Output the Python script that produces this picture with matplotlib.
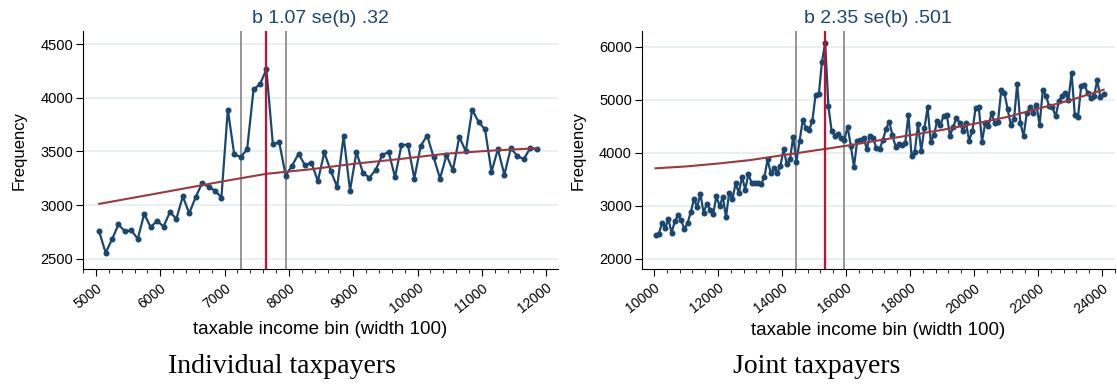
import numpy as np
import matplotlib
matplotlib.use("Agg")
from matplotlib import pyplot as plt
from matplotlib.ticker import MultipleLocator

plt.rcParams['font.family'] = ['Liberation Sans', 'DejaVu Sans']

# individual taxpayers, bins of width 100 starting at 5050
ind_bins = np.arange(5050, 11851, 100)
ind_freq = [2755, 2556, 2683, 2820, 2755, 2764, 2686, 2919, 2795, 2854,
            2801, 2935, 2873, 3081, 2925, 3075, 3205, 3171, 3136, 3071,
            3891, 3472, 3450, 3519, 4078, 4127, 4264, 3571, 3584, 3276,
            3369, 3478, 3372, 3397, 3223, 3491, 3320, 3171, 3643, 3136,
            3494, 3304, 3255, 3329, 3466, 3497, 3261, 3559, 3565, 3248,
            3553, 3649, 3447, 3248, 3466, 3326, 3637, 3500, 3888, 3776,
            3705, 3310, 3522, 3283, 3531, 3460, 3429, 3528, 3522]
ind_fit_x = [5050, 6050, 7050, 7650, 8350, 9050, 9700, 10450, 11150, 11850]
ind_fit_y = [3012, 3120, 3230, 3292, 3335, 3388, 3428, 3480, 3508, 3530]
ind_lines = [7250, 7650, 7950]  # lower bound, kink, upper bound

# joint taxpayers, bins of width 100 starting at 10050
jnt_bins = np.arange(10050, 24051, 100)
jnt_freq = [2443, 2468, 2671, 2582, 2741, 2487, 2703, 2816, 2722, 2557,
            2671, 2880, 3120, 2975, 3228, 2861, 3038, 2924, 2848, 3177,
            2987, 3165, 2785, 3247, 3120, 3418, 3241, 3544, 3304, 3595,
            3430, 3418, 3418, 3405, 3544, 3873, 3608, 3703, 3620, 3747,
            4063, 3785, 3873, 4304, 3829, 4228, 4620, 4462, 4430, 4608,
            5095, 5101, 5722, 6076, 4873, 4418, 4316, 4348, 4272, 4241,
            4494, 4127, 3734, 4228, 4241, 4272, 4076, 4316, 4272, 4082,
            4063, 4241, 4443, 4589, 4335, 4114, 4165, 4146, 4177, 4715,
            3937, 4019, 4544, 4038, 4462, 4854, 4209, 4335, 4608, 4525,
            4696, 4715, 4316, 4494, 4652, 4570, 4418, 4557, 4228, 4418,
            4842, 4861, 4209, 4557, 4506, 4747, 4557, 4589, 5177, 5127,
            4823, 4525, 4633, 5304, 4557, 4316, 4747, 4861, 4747, 4905,
            4525, 5177, 5076, 4873, 4861, 4684, 4968, 5076, 5127, 5000,
            5506, 4715, 4671, 5266, 5285, 5127, 5032, 5063, 5367, 5051,
            5114]
jnt_fit_x = [10050, 11000, 12000, 13000, 14000, 15000, 15350, 16000,
             17000, 18000, 19000, 20000, 21000, 22000, 23000, 24050]
jnt_fit_y = [3705, 3740, 3795, 3860, 3950, 4040, 4070, 4130,
             4230, 4330, 4430, 4545, 4670, 4830, 4990, 5190]
jnt_lines = [14450, 15350, 15950]

titles = ["b 1.07 se(b) .32", "b 2.35 se(b) .501"]
captions = ["Individual taxpayers", "Joint taxpayers"]

NAVY = '#1a476f'
MAROON = '#9b3a3e'
RED = '#c8102e'
GRAY = '#8c8c8c'
GRID = '#e4edf0'

fig = plt.figure(figsize=(11.17, 3.85), dpi=100)
ax1 = fig.add_axes([0.0743, 0.301, 0.4253, 0.618])
ax2 = fig.add_axes([0.5745, 0.301, 0.4237, 0.618])

panels = [
    (ax1, ind_bins, ind_freq, ind_fit_x, ind_fit_y, ind_lines,
     (4798, 12185), (2404, 4621), 1000, 200, 500),
    (ax2, jnt_bins, jnt_freq, jnt_fit_x, jnt_fit_y, jnt_lines,
     (9616, 24406), (1800, 6296), 2000, 400, 1000),
]

for i, (ax, bx, fy, fx, fity, vl, xl, yl, xmaj, xmin, ymaj) in enumerate(panels):
    ax.grid(axis='y', color=GRID, linewidth=1.2)
    ax.set_axisbelow(True)
    ax.axvline(vl[0], color=GRAY, linewidth=1.3, zorder=2)
    ax.axvline(vl[2], color=GRAY, linewidth=1.3, zorder=2)
    ax.plot(bx, fy, color=NAVY, linewidth=1.6, marker='o', markersize=3.3, zorder=3)
    ax.plot(fx, fity, color=MAROON, linewidth=1.5, zorder=4)
    ax.axvline(vl[1], color=RED, linewidth=1.6, zorder=5)

    ax.set_xlim(*xl)
    ax.set_ylim(*yl)
    ax.xaxis.set_major_locator(MultipleLocator(xmaj))
    ax.xaxis.set_minor_locator(MultipleLocator(xmin))
    ax.yaxis.set_major_locator(MultipleLocator(ymaj))
    for s in ['top', 'right']:
        ax.spines[s].set_visible(False)
    ax.tick_params(axis='y', labelsize=10.5, length=5, pad=2)
    ax.tick_params(axis='x', which='major', labelsize=10, length=5)
    ax.tick_params(axis='x', which='minor', length=3)
    plt.setp(ax.get_xticklabels(), rotation=38, ha='right', rotation_mode='anchor')
    ax.set_ylabel('Frequency', fontsize=12, labelpad=10)
    ax.set_xlabel('taxable income bin (width 100)', fontsize=13.5, labelpad=4)
    ax.set_title(titles[i], color=NAVY, fontsize=14, pad=6)

fig.text(0.2525, 0.03, captions[0], family='Liberation Serif', fontsize=20, ha='center')
fig.text(0.7315, 0.03, captions[1], family='Liberation Serif', fontsize=20, ha='center')

fig.savefig('out.png', dpi=100)
